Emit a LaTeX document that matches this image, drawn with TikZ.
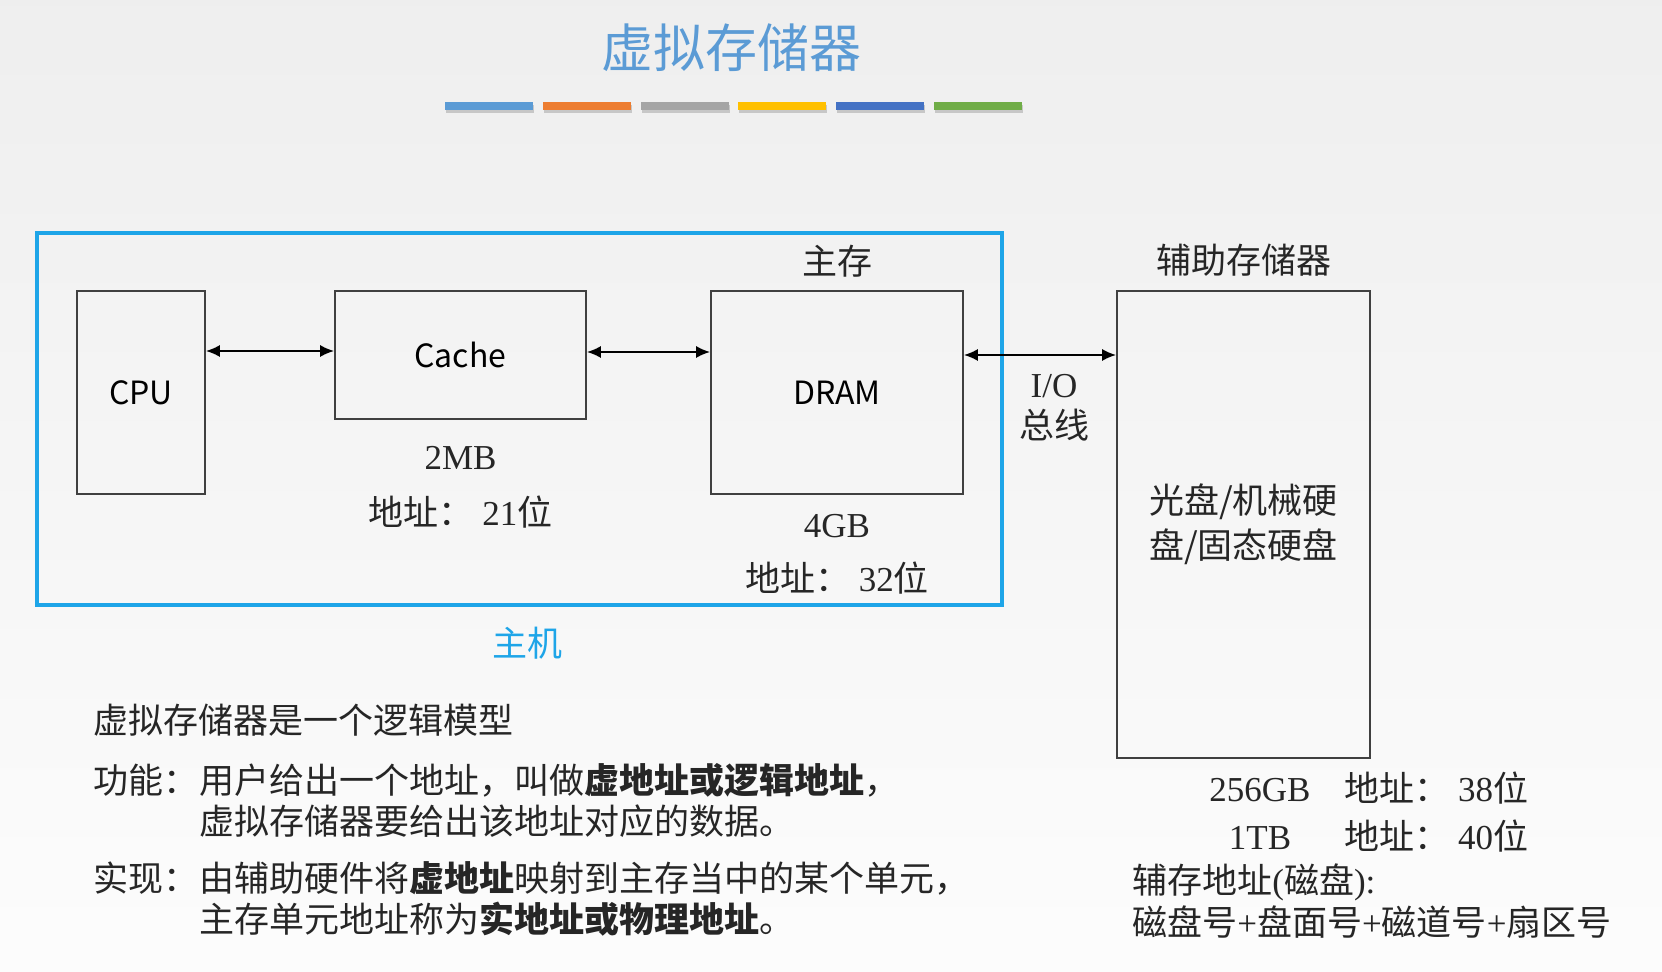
\documentclass[tikz,border=0pt]{standalone}
\usepackage{fontspec}
\setmainfont{Noto Sans CJK SC}
\newfontfamily\timesfont{Liberation Serif}
\newcommand\tm[1]{{\timesfont #1}}
\usetikzlibrary{arrows.meta, positioning}

\definecolor{titleblue}{RGB}{91,155,213}
\definecolor{hostblue}{RGB}{30,165,232}
\definecolor{boxline}{RGB}{64,64,64}
\definecolor{textgray}{RGB}{38,38,38}
\definecolor{barA}{RGB}{91,155,213}
\definecolor{barB}{RGB}{237,125,49}
\definecolor{barC}{RGB}{165,165,165}
\definecolor{barD}{RGB}{255,192,0}
\definecolor{barE}{RGB}{68,114,196}
\definecolor{barF}{RGB}{112,173,71}

\begin{document}
\begin{tikzpicture}[
        x=0.5pt, y=-0.5pt,
        unit/.style={
            draw=boxline,
            line width=0.8pt,
            inner sep=0pt,
            align=center,
            text=black,
            font=\fontsize{16}{19}\selectfont
        },
        note/.style={
            inner sep=0pt,
            text=textgray,
            font=\fontsize{17.5}{20.5}\selectfont
        },
        link/.style={
            {Latex[length=7pt,width=6pt]}-{Latex[length=7pt,width=6pt]},
            line width=1pt
        }
    ]

    % 背景
    \shade[top color=gray!13, bottom color=gray!2] (0,0) rectangle (1662,972);
    \useasboundingbox (0,0) rectangle (1662,972);

    % 标题
    \node[font=\fontsize{26}{30}\selectfont, text=titleblue] (title) at (731,48) {虚拟存储器};
    \foreach \c [count=\i from 0] in {barA,barB,barC,barD,barE,barF} {
        \fill[black!22] (446+\i*97.8,105) rectangle ++(88,8);
        \fill[\c] (445+\i*97.8,102) rectangle ++(88,8);
    }

    % 主机
    \node[draw=hostblue, line width=2pt, minimum width=482.5pt, minimum height=186pt] (host) at (519.5,419) {};
    \node[note, text=hostblue, below=10pt of host, xshift=4pt] (hostname) {主机};

    % 部件
    \node[unit, minimum width=64pt, minimum height=101.5pt] (cpu) at (141,392.5) {CPU};
    \node[unit, minimum width=125.5pt, minimum height=64pt] (cache) at (460.5,355) {Cache};
    \node[unit, minimum width=126pt, minimum height=101.5pt] (dram) at (837,392.5) {DRAM};
    \node[unit, minimum width=126.5pt, minimum height=233.5pt, text=textgray,
          font=\fontsize{17.5}{22.5}\selectfont] (aux) at (1243.5,524.5) {光盘/机械硬\\盘/固态硬盘};

    \node[note, above=6.5pt of dram] (mainmem) {主存};
    \node[note, above=6.5pt of aux] (auxname) {辅助存储器};

    \node[note, below=13pt of cache] (cachesize) {\tm{2MB}};
    \node[note, below=13pt of cachesize] (cacheaddr) {地址：\tm{ 21}位};
    \node[note, below=9.5pt of dram] (dramsize) {\tm{4GB}};
    \node[note, below=11.5pt of dramsize] (dramaddr) {地址：\tm{ 32}位};

    % 箭头
    \draw[link] (cpu.east |- cache.west) ++(0,-4) coordinate (cpuport) -- (cpuport -| cache.west);
    \draw[link] (cache.east) ++(0,-3) coordinate (cacheport) -- (cacheport -| dram.west);
    \draw[link] (dram.east |- cache.east) --
        node[note, below=9pt, xshift=7pt, align=center] (bus) {\tm{I/O}\\总线}
        (aux.west |- cache.east);

    % 辅存容量
    \node[note, anchor=base] (sizeA) at (1260,802) {\tm{256GB}};
    \node[note, anchor=base west] (addrA) at (1344,802) {地址：\tm{ 38}位};
    \node[note, anchor=base] (sizeB) at (1260,850) {\tm{1TB}};
    \node[note, anchor=base west] (addrB) at (1344,850) {地址：\tm{ 40}位};
    \node[note, anchor=base west] (diskA) at (1132,894) {辅存地址\tm{(}磁盘\tm{):}};
    \node[note, anchor=base west] (diskB) at (1132,936) {磁盘号\tm{+}盘面号\tm{+}磁道号\tm{+}扇区号};

    % 说明文字
    \node[note, anchor=base west] (intro) at (93,734) {虚拟存储器是一个逻辑模型};
    \node[note, anchor=base west] (funcHead) at (93,794) {功能：};
    \node[note, base right=0pt of funcHead] (funcA) {用户给出一个地址，叫做\textbf{虚地址或逻辑地址}，};
    \node[note, anchor=base west, yshift=-20.5pt] (funcB) at (funcA.base west) {虚拟存储器要给出该地址对应的数据。};
    \node[note, anchor=base west] (implHead) at (93,892) {实现：};
    \node[note, base right=0pt of implHead] (implA) {由辅助硬件将\textbf{虚地址}映射到主存当中的某个单元，};
    \node[note, anchor=base west, yshift=-20.5pt] (implB) at (implA.base west) {主存单元地址称为\textbf{实地址或物理地址}。};

\end{tikzpicture}
\end{document}
